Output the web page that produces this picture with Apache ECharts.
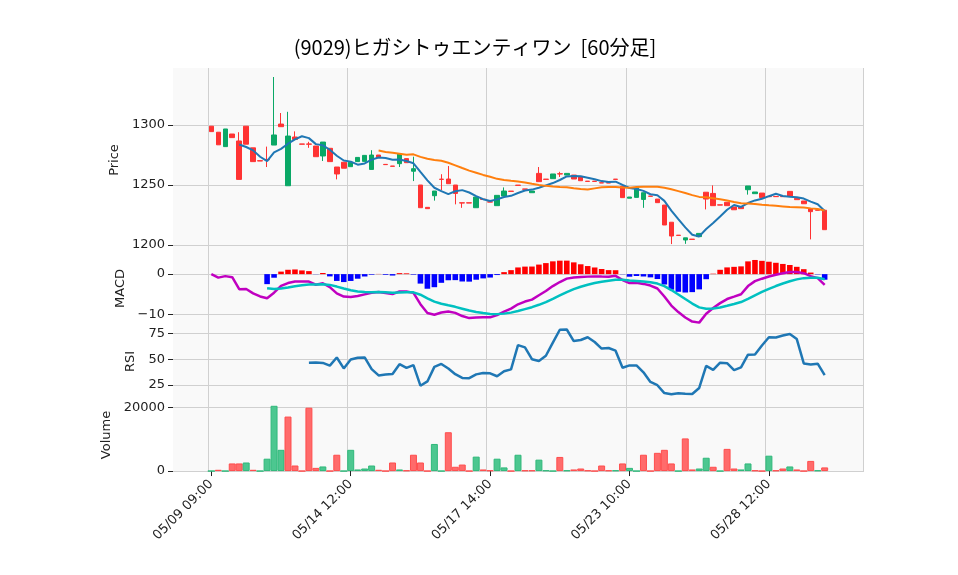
<!doctype html>
<html>
<head>
<meta charset="utf-8">
<script src="https://cdn.jsdelivr.net/npm/echarts@6/dist/echarts.min.js"></script>
<style>html,body{margin:0;background:#fff}</style>
</head>
<body>
<div id="chart" style="width:958px;height:575px;"></div>
<script>
// OHLC (60 minute bars)
let opens = [1299,1294,1282,1292.5,1286.7,1299,1281,1270.3,1271.3,1283.3,1300.8,1249.4,1290,1284.2,1284.2,1282.5,1274.2,1280.6,1265,1269,
  1265.3,1269.5,1269.7,1263,1275,1267.2,1265.8,1267.8,1272,1261.5,1250,1231.4,1241.1,1254.9,1255,1250,1235.2,1235.2,1231.1,1238.2,
  1236,1232.8,1240.8,1244.9,1249.9,1246.7,1243.6,1259.7,1254.9,1255.3,1259.4,1258.3,1258.3,1257,1253.2,1253.2,1251.9,1251.9,1254.9,1249,
  1239,1239.7,1238,1240.8,1238.3,1233.3,1219,1208.2,1204.2,1204.9,1207,1244,1243,1233.5,1235.6,1231.7,1231.9,1246.1,1242.8,1243.3,
  1240.5,1240.5,1240.5,1244.7,1238.9,1236.7,1230,1229.2,1229];
let closes = [1294.5,1283.5,1296.7,1289.5,1254.7,1284,1269.5,1270,1271,1291.7,1298.6,1290.8,1288,1284,1284,1273.6,1285.8,1269.5,1259.2,1264,
  1269,1273,1274.7,1275,1273,1267,1265.6,1275.8,1268.6,1263.6,1231.1,1230.3,1245,1254.7,1251.1,1243,1235,1235,1240,1238,
  1235.8,1241.4,1245,1244.7,1249.7,1246.5,1245,1252.8,1254.7,1259.2,1259.2,1259.7,1255,1253.6,1253,1253,1251.7,1251.7,1254.7,1239.5,
  1240,1247.8,1243.6,1240.6,1235.3,1216.7,1207.5,1208,1206,1204.7,1209.7,1238.3,1232.8,1233.3,1232.8,1229.4,1230.3,1249.2,1244.2,1239.5,
  1240.3,1240.3,1240.3,1240.8,1237.8,1234.4,1227.8,1229,1212.8];
let highs = {4:1294, 8:1282, 9:1340, 10:1310, 11:1311, 12:1294.7, 14:1286, 23:1279, 29:1273.6, 33:1259, 34:1265.8, 42:1248, 47:1265,
  50:1261, 72:1249.7};
let lows = {8:1265, 14:1281, 16:1270, 18:1254.7, 27:1265, 29:1253.3, 32:1237, 33:1245.8, 35:1233.9, 36:1231, 50:1256.7,
  62:1231, 66:1200.8, 68:1201, 71:1229.7, 77:1242, 86:1204.7};
let volumes = [0,400,0,2400,2400,2700,400,0,3900,20600,6700,17200,1750,0,20000,1000,1450,0,5150,0,
  6700,500,800,1750,400,0,2700,500,200,5150,2700,0,8550,0,12250,1350,2050,0,4550,500,
  200,3900,1150,0,5150,200,200,3600,200,0,4450,200,500,800,200,0,1750,200,200,2400,
  1000,0,5150,0,5750,6700,2400,0,10300,500,800,4200,1350,0,7000,800,500,2400,200,0,
  4850,200,800,1450,500,0,3200,200,1150];
let tickLabels = ['05/09 09:00', '05/14 12:00', '05/17 14:00', '05/23 10:00', '05/28 12:00'];

const PAD = 5, N = closes.length, TOTAL = N + 2 * PAD;
let cats = [];
for (let i = 0; i < TOTAL; i++) cats.push(String(i));
const isTick = idx => idx >= PAD && (idx - PAD) % 20 === 0 && (idx - PAD) / 20 < tickLabels.length;
const pad = arr => Array(PAD).fill('-').concat(arr, Array(PAD).fill('-'));

// indicators
function ema(src, n) {
    let a = 2 / (n + 1), out = [src[0]];
    for (let i = 1; i < src.length; i++) out.push(a * src[i] + (1 - a) * out[i - 1]);
    return out;
}
function ma(src, n) {
    return src.map((v, i) => i < n - 1 ? '-' : src.slice(i - n + 1, i + 1).reduce((s, x) => s + x, 0) / n);
}
let ma5 = ma(closes, 5), ma25 = ma(closes, 25);
let e12 = ema(closes, 12), e26 = ema(closes, 26);
let macd = closes.map((c, i) => e12[i] - e26[i]);
let sig = ema(macd, 9);
let sigShow = sig.map((v, i) => i < 8 ? '-' : v);
let hist = macd.map((v, i) => i < 8 ? '-' : {value: v - sig[i], itemStyle: {color: v - sig[i] >= 0 ? '#ff0000' : '#0000ff'}});
let rsi = closes.map((c, i) => {
    if (i < 14) return '-';
    let g = 0, l = 0;
    for (let k = i - 13; k <= i; k++) {
        let d = closes[k] - closes[k - 1];
        if (d > 0) g += d; else l -= d;
    }
    return l === 0 ? 100 : 100 - 100 / (1 + g / l);
});
let candles = closes.map((c, i) => {
    let o = opens[i];
    return [o, c, lows[i] ?? Math.min(o, c), highs[i] ?? Math.max(o, c)];
});
let vol = volumes.map((v, i) => {
    let up = i === 0 || closes[i] > closes[i - 1];
    return {value: v, itemStyle: {color: up ? '#4cc790' : '#ff6b6b', borderColor: up ? '#2fb87a' : '#ff4d4d', borderWidth: 1}};
});

let chart = echarts.init(document.getElementById('chart'));
const FONT = 'DejaVu Sans';
const grids = [
    {top: 68, height: 184}, {top: 252, height: 73}, {top: 325, height: 73}, {top: 398, height: 74}
].map(g => Object.assign({left: 173, right: 95, show: true, backgroundColor: '#f9f9f9', borderWidth: 0}, g));
const xAxes = grids.map((g, k) => ({
    type: 'category', gridIndex: k, data: cats, boundaryGap: true,
    axisLine: {show: false},
    axisTick: {show: k === 3, interval: (idx) => isTick(idx), alignWithLabel: true, length: 5, lineStyle: {color: '#222'}},
    axisLabel: {show: k === 3, interval: (idx) => isTick(idx), rotate: 45, fontFamily: FONT, fontSize: 13, color: '#222',
        formatter: (v, idx) => tickLabels[(idx - PAD) / 20], margin: 10},
    splitLine: {show: true, interval: (idx) => isTick(idx), lineStyle: {color: '#d0d0d0', width: 1}}
}));
function yAx(k, name, min, max, ticks, nameGap) {
    return {
        type: 'value', gridIndex: k, min: min, max: max, name: name, nameLocation: 'middle', nameGap: nameGap,
        nameTextStyle: {fontFamily: FONT, fontSize: 13, color: '#222'},
        axisLine: {show: false},
        axisTick: {show: true, customValues: ticks, length: 5, lineStyle: {color: '#222'}},
        axisLabel: {customValues: ticks, fontFamily: FONT, fontSize: 13, color: '#222', margin: 8,
            formatter: v => v < 0 ? '\u2212' + Math.abs(v) : String(v)},
        splitLine: {show: true, lineStyle: {color: '#d0d0d0'}}
    };
}
chart.setOption({
    animation: false,
    title: {text: '(9029)ヒガシトゥエンティワン  [60分足]', left: 470, top: 32, textAlign: 'center',
        textStyle: {fontFamily: 'Noto Sans CJK JP', fontSize: 20, fontWeight: 'normal', color: '#000'}},
    grid: grids,
    xAxis: xAxes,
    yAxis: [
        yAx(0, 'Price', 1194.2, 1347.5, [1200, 1250, 1300], 50),
        yAx(1, 'MACD', -12.65, 5.5, [-10, 0], 42),
        yAx(2, 'RSI', 12.5, 83, [25, 50, 75], 34),
        yAx(3, 'Volume', -300, 23060, [0, 20000], 58)
    ],
    series: [
        {type: 'candlestick', xAxisIndex: 0, yAxisIndex: 0, data: pad(candles), barWidth: 5,
            itemStyle: {color: '#0aa866', color0: '#ff3333', borderColor: '#0aa866', borderColor0: '#ff3333'}},
        {type: 'line', xAxisIndex: 0, yAxisIndex: 0, data: pad(ma5), showSymbol: false, lineStyle: {color: '#1f77b4', width: 2}, itemStyle: {color: '#1f77b4'}},
        {type: 'line', xAxisIndex: 0, yAxisIndex: 0, data: pad(ma25), showSymbol: false, lineStyle: {color: '#ff7f0e', width: 2}, itemStyle: {color: '#ff7f0e'}},
        {type: 'bar', xAxisIndex: 1, yAxisIndex: 1, data: pad(hist), barWidth: '80%'},
        {type: 'line', xAxisIndex: 1, yAxisIndex: 1, data: pad(macd), showSymbol: false, lineStyle: {color: '#c000c0', width: 2.5}},
        {type: 'line', xAxisIndex: 1, yAxisIndex: 1, data: pad(sigShow), showSymbol: false, lineStyle: {color: '#00c0c0', width: 2.5}},
        {type: 'line', xAxisIndex: 2, yAxisIndex: 2, data: pad(rsi), showSymbol: false, lineStyle: {color: '#1f77b4', width: 2.5}},
        {type: 'bar', xAxisIndex: 3, yAxisIndex: 3, data: pad(vol), barWidth: '100%'}
    ]
});
</script>
</body>
</html>
